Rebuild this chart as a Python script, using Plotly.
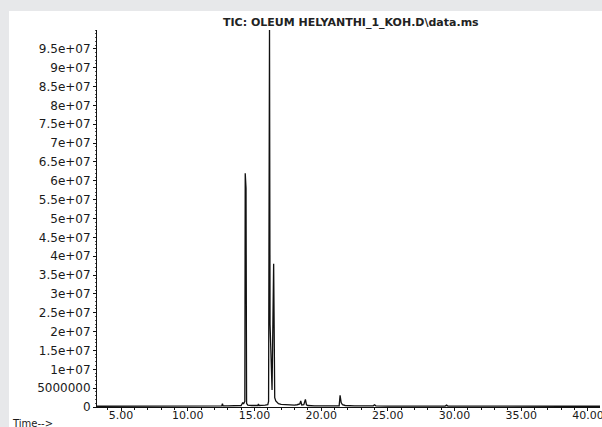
import plotly.graph_objects as go

# Retention time (min) and total ion current (abundance)
time_min = [3.2, 4.0, 5.0, 6.0, 7.0, 8.0, 9.0, 10.0, 11.0, 12.0, 12.55, 12.6, 12.65,
            13.0, 13.5, 14.0, 14.08, 14.12, 14.18, 14.28, 14.31, 14.37, 14.41, 14.5,
            14.8, 15.0, 15.25, 15.3, 15.35, 15.8, 16.0, 16.06, 16.10, 16.13, 16.17,
            16.26, 16.32, 16.44, 16.47, 16.52, 16.6, 16.8, 17.0, 17.3, 17.6, 18.0,
            18.2, 18.4, 18.47, 18.55, 18.7, 18.82, 18.9, 19.0, 19.5, 20.0, 20.5,
            21.0, 21.35, 21.42, 21.5, 21.6, 21.8, 22.5, 23.5, 23.9, 24.0, 24.1,
            25.0, 26.0, 27.0, 28.0, 29.3, 29.4, 29.5, 30.0, 32.0, 34.0, 36.0,
            38.0, 40.0, 40.9]
abundance = [2e5, 2e5, 2.5e5, 2e5, 2.5e5, 2e5, 2.5e5, 2e5, 3e5, 3e5, 3e5, 9e5, 3e5,
             3e5, 3.5e5, 4e5, 9e5, 1.2e6, 8e5, 1.5e6, 6.2e7, 5.8e7, 1.0e6, 5e5,
             4e5, 4e5, 4e5, 8e5, 4e5, 5e5, 6e5, 1.5e6, 7.6e7, 1.0e8, 2.2e7,
             6.0e6, 4.5e6, 3.8e7, 4.0e6, 2.5e6, 1.6e6, 9e5, 7e5, 6e5, 5e5, 5e5,
             6e5, 8e5, 1.6e6, 5e5, 6e5, 2.0e6, 6e5, 4e5, 3e5, 3e5, 3e5,
             3e5, 3e5, 3.1e6, 1.2e6, 6e5, 4e5, 3e5, 3e5, 3e5, 6e5, 3e5,
             2.5e5, 2.5e5, 2.5e5, 2.5e5, 2.5e5, 5e5, 2.5e5, 2.5e5, 2e5, 2e5, 2e5,
             2e5, 2e5, 2e5]

x_tick_vals = [5, 10, 15, 20, 25, 30, 35, 40]
y_tick_vals = [0, 5e6, 1e7, 1.5e7, 2e7, 2.5e7, 3e7, 3.5e7, 4e7, 4.5e7, 5e7,
               5.5e7, 6e7, 6.5e7, 7e7, 7.5e7, 8e7, 8.5e7, 9e7, 9.5e7]
y_tick_text = ["0", "5000000", "1e+07", "1.5e+07", "2e+07", "2.5e+07", "3e+07",
               "3.5e+07", "4e+07", "4.5e+07", "5e+07", "5.5e+07", "6e+07", "6.5e+07",
               "7e+07", "7.5e+07", "8e+07", "8.5e+07", "9e+07", "9.5e+07"]
title_text = "TIC: OLEUM HELYANTHI_1_KOH.D\\data.ms"

W, H = 602, 427
ml, mr, mt, mb = 97, 2, 30, 20
pw, ph = W - ml - mr, H - mt - mb

fig = go.Figure()
fig.add_trace(go.Scatter(x=time_min, y=abundance, mode="lines",
                         line=dict(color="#111111", width=1.3), hoverinfo="skip"))

font_fam = "DejaVu Sans, Arial, sans-serif"
fig.update_layout(
    width=W, height=H,
    margin=dict(l=ml, r=mr, t=mt, b=mb),
    paper_bgcolor="#e7e8ea",
    plot_bgcolor="white",
    showlegend=False,
    font=dict(family=font_fam, size=12, color="#1a1a1a"),
    shapes=[dict(type="rect", xref="paper", yref="paper", layer="below",
                 x0=(9 - ml) / pw, x1=1.05, y0=-0.1, y1=(H - 11 - mb) / ph,
                 fillcolor="white", line=dict(width=0))],
    annotations=[
        dict(text=title_text, xref="paper", yref="paper",
             x=(351 - ml) / pw, y=(H - 22 - mb) / ph, xanchor="center", yanchor="middle",
             showarrow=False,
             font=dict(family=font_fam, size=11, color="#222222", weight=600)),
        dict(text="Time-->", xref="paper", yref="paper",
             x=(10 - ml) / pw, y=(H - 423 - mb) / ph, xanchor="left", yanchor="middle",
             showarrow=False, font=dict(family=font_fam, size=10, color="#1a1a1a")),
    ],
)
fig.update_xaxes(range=[3.2, 40.9], showgrid=False, zeroline=False,
                 showline=True, linecolor="#111", linewidth=1,
                 tickvals=x_tick_vals, tickformat=".2f", ticks="outside",
                 ticklen=3, tickcolor="#111", automargin=False,
                 ticklabeloverflow="allow", ticklabelstandoff=-5,
                 minor=dict(dtick=1, ticks="outside", ticklen=2, tickcolor="#111"),
                 tickfont=dict(size=11))
fig.update_yaxes(range=[0, 1.0e8], showgrid=False, zeroline=False,
                 showline=True, linecolor="#111", linewidth=1,
                 tickvals=y_tick_vals, ticktext=y_tick_text, ticks="outside",
                 ticklen=3, tickcolor="#111", automargin=False,
                 minor=dict(dtick=1e6, ticks="outside", ticklen=1, tickcolor="#555"),
                 tickfont=dict(size=12))

fig.write_html("out.html", config={"displayModeBar": False},
               post_script="document.body.style.margin='0';"
                           "document.body.style.padding='0';"
                           "document.body.style.overflow='hidden';")
